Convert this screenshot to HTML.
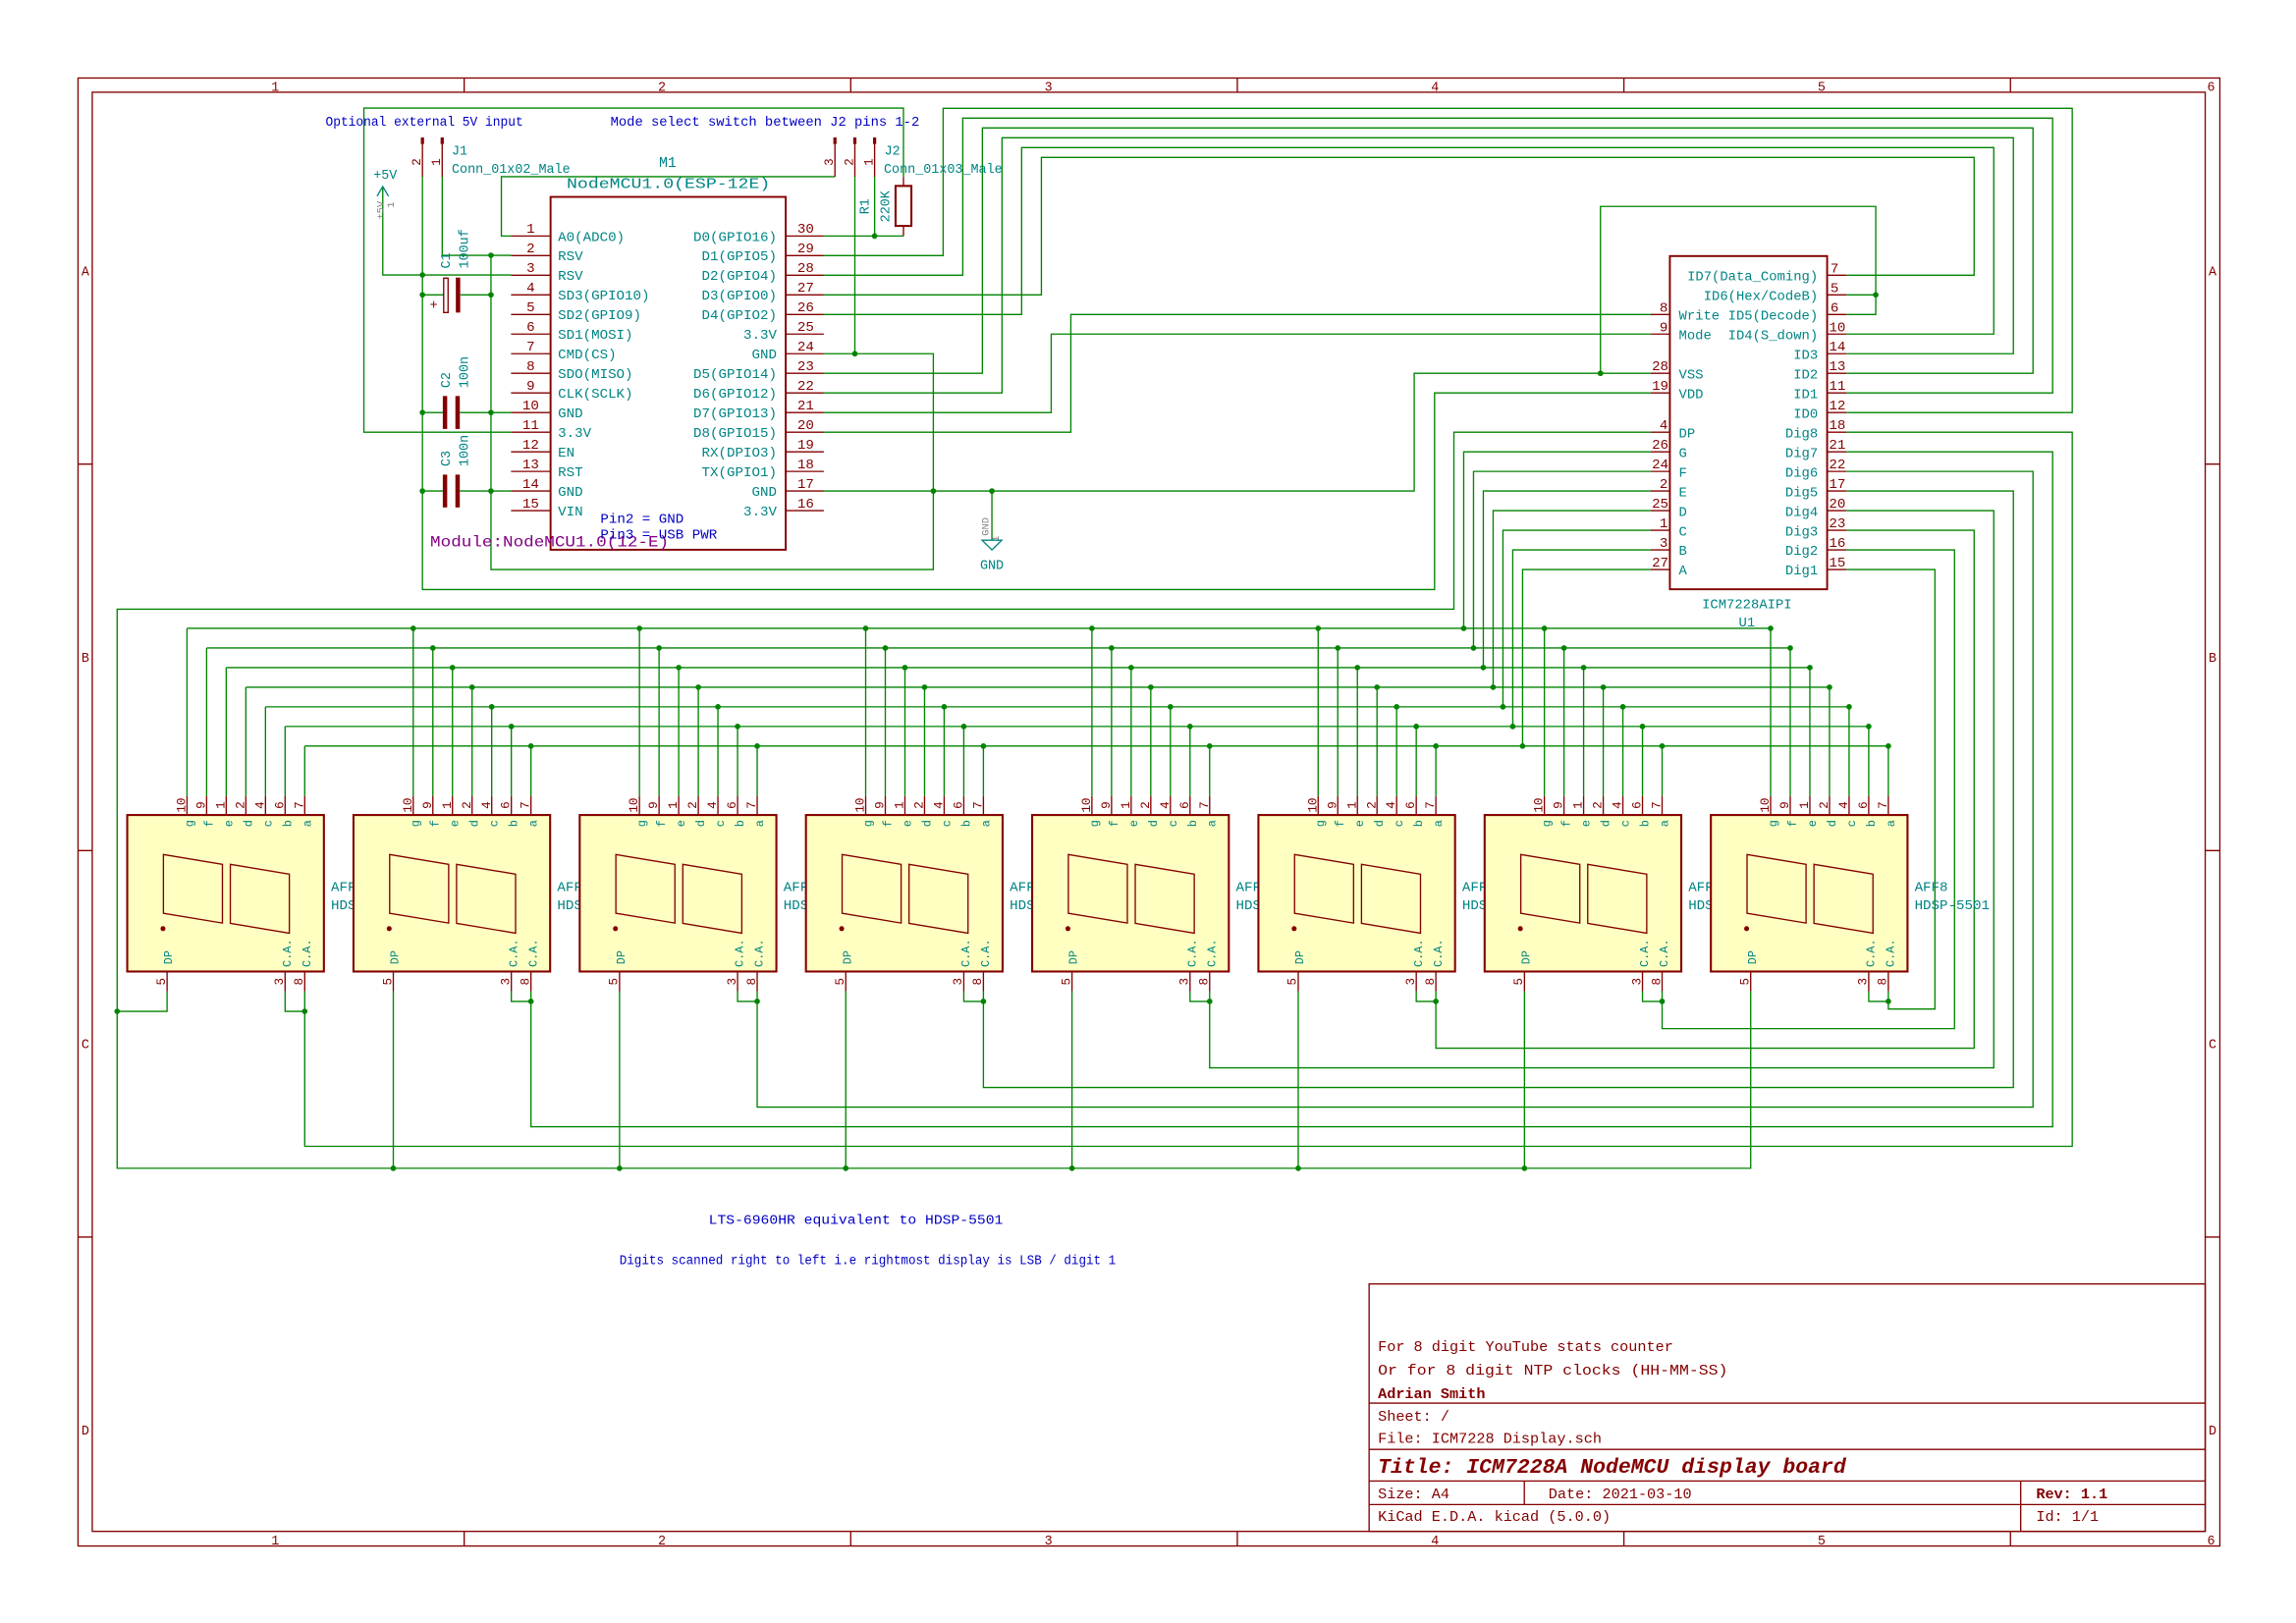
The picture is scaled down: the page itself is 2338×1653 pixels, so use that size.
<!DOCTYPE html>
<html><head><meta charset="utf-8"><style>
html,body{margin:0;padding:0;background:#fff;}
svg{display:block;}
text{font-family:"Liberation Mono",monospace;}
</style></head><body>
<svg width="2338" height="1653" viewBox="0 0 1568 1108.6" preserveAspectRatio="none" xmlns="http://www.w3.org/2000/svg">
<rect x="0" y="0" width="1568" height="1109" fill="#fff"/>
<!-- border -->
<g fill="none" stroke="#840000" stroke-width="0.9">
<rect x="53.3" y="53.3" width="1462.7" height="1002.7"/>
<rect x="63" y="63" width="1443" height="983"/>
<path d="M317 53.3V63M581 53.3V63M845 53.3V63M1109 53.3V63M1373 53.3V63M317 1046V1056M581 1046V1056M845 1046V1056M1109 1046V1056M1373 1046V1056M53.3 317H63M53.3 581H63M53.3 845H63M1506 317H1516M1506 581H1516M1506 845H1516"/>
</g>
<g fill="#840000" font-size="9" text-anchor="middle">
<text x="188" y="62">1</text><text x="452" y="62">2</text><text x="716" y="62">3</text><text x="980" y="62">4</text><text x="1244" y="62">5</text><text x="1510" y="62">6</text>
<text x="188" y="1055">1</text><text x="452" y="1055">2</text><text x="716" y="1055">3</text><text x="980" y="1055">4</text><text x="1244" y="1055">5</text><text x="1510" y="1055">6</text>
<text x="58.3" y="188">A</text><text x="58.3" y="452">B</text><text x="58.3" y="716">C</text><text x="58.3" y="980">D</text>
<text x="1511" y="188">A</text><text x="1511" y="452">B</text><text x="1511" y="716">C</text><text x="1511" y="980">D</text>
</g>
<!-- title block -->
<g fill="none" stroke="#840000" stroke-width="0.9">
<rect x="935" y="877" width="571" height="169"/>
<path d="M935 958.4H1506M935 990H1506M935 1011.6H1506M935 1027.7H1506M1041 1011.6V1027.7M1380 1011.6V1046"/>
</g>
<g fill="#840000" font-size="10.2">
<text x="941" y="923">For 8 digit YouTube stats counter</text>
<text x="941" y="939" textLength="239" lengthAdjust="spacingAndGlyphs">Or for 8 digit NTP clocks (HH-MM-SS)</text>
<text x="941" y="955" font-weight="bold">Adrian Smith</text>
<text x="941" y="970.5">Sheet: /</text>
<text x="941" y="985.5">File: ICM7228 Display.sch</text>
<text x="941" y="1006" font-size="14.4" font-weight="bold" font-style="italic">Title: ICM7228A NodeMCU display board</text>
<text x="941" y="1023.5">Size: A4</text>
<text x="1057.5" y="1023.5">Date: 2021-03-10</text>
<text x="1390.5" y="1023.5" font-weight="bold">Rev: 1.1</text>
<text x="941" y="1039">KiCad E.D.A.  kicad (5.0.0)</text>
<text x="1390.5" y="1039">Id: 1/1</text>
</g>

<!-- WIRES -->
<g fill="none" stroke="#008400" stroke-width="0.9">
<path d="M349 295.2H248.5V73.8H617V120.9"/>
<path d="M562.6 161.2H617"/>
<path d="M597.3 120.7V161.2"/>
<path d="M583.8 120.7V241.6"/>
<path d="M570.2 120.7H342.4V161.2H349"/>
<path d="M562.6 241.6H637.4V389H335.3V174.4"/>
<path d="M562.6 335.4H965.8V255H1127.2"/>
<path d="M677.4 335.4V369"/>
<path d="M302 120.7V174.4H349"/>
<path d="M288.5 120.7V402.7H979.7V268.4H1127.2"/>
<path d="M261.4 127.4V187.8H349"/>
<path d="M288.5 201.4H303M314.5 201.4H335.3"/>
<path d="M288.5 281.8H302.5M314 281.8H349"/>
<path d="M288.5 335.4H302.5M314 335.4H349"/>
<path d="M1261 188H1348.2V107.5H711.2V201.4H562.6"/>
<path d="M1261 228.2H1361.6V100.8H697.7V214.8H562.6"/>
<path d="M1261 241.6H1375V94.1H684.3V268.4H562.6"/>
<path d="M1261 255H1388.4V87.4H670.9V255H562.6"/>
<path d="M1261 268.4H1401.8V80.7H657.5V188H562.6"/>
<path d="M1261 281.8H1415.2V74H644.1V174.6H562.6"/>
<path d="M1261 201.4H1281M1261 214.8H1281V141H1093V255"/>
<path d="M562.6 295.2H731.3V214.8H1127.2"/>
<path d="M562.6 281.8H717.9V228.2H1127.2"/>
<path d="M1127.2 308.6H999.6V429.2M1127.2 322H1006.3V442.6M1127.2 335.4H1013V456M1127.2 348.8H1019.7V469.4M1127.2 362.2H1026.4V482.8M1127.2 375.6H1033.1V496.2M1127.2 389H1039.8V509.6"/>
<path d="M1127.2 295.2H992.9V416.1H80V798H1195.6V677"/>
<path d="M127.7 429.2H1209.2M141.1 442.6H1222.6M154.5 456H1236M167.9 469.4H1249.4M181.3 482.8H1262.8M194.7 496.2H1276.2M208.1 509.6H1289.6"/>
<path d="M114.1 677V690.8H80M194.7 677V690.8H208.1M1261 295.2H1415.2V783H208.1V677"/>
<path d="M268.6 677V798M349.2 677V684H362.6M1261 308.6H1401.8V769.6H362.6V677"/>
<path d="M423.1 677V798M503.7 677V684H517.1M1261 322H1388.4V756.2H517.1V677"/>
<path d="M577.6 677V798M658.2 677V684H671.6M1261 335.4H1375V742.8H671.6V677"/>
<path d="M732.1 677V798M812.7 677V684H826.1M1261 348.8H1361.6V729.4H826.1V677"/>
<path d="M886.6 677V798M967.2 677V684H980.6M1261 362.2H1348.2V716H980.6V677"/>
<path d="M1041.1 677V798M1121.7 677V684H1135.1M1261 375.6H1334.8V702.6H1135.1V677"/>
<path d="M1276.2 677V684H1289.6M1261 389H1321.4V689.2H1289.6V677"/>
</g>
<g fill="#008400">
<circle cx="597.3" cy="161.2" r="1.9"/><circle cx="583.8" cy="241.6" r="1.9"/><circle cx="637.4" cy="335.4" r="1.9"/><circle cx="677.4" cy="335.4" r="1.9"/>
<circle cx="335.3" cy="174.4" r="1.9"/><circle cx="335.3" cy="201.4" r="1.9"/><circle cx="335.3" cy="281.8" r="1.9"/><circle cx="335.3" cy="335.4" r="1.9"/>
<circle cx="288.5" cy="187.8" r="1.9"/><circle cx="288.5" cy="201.4" r="1.9"/><circle cx="288.5" cy="281.8" r="1.9"/><circle cx="288.5" cy="335.4" r="1.9"/>
<circle cx="1281" cy="201.4" r="1.9"/><circle cx="1093" cy="255" r="1.9"/>
<circle cx="999.6" cy="429.2" r="1.9"/><circle cx="1006.3" cy="442.6" r="1.9"/><circle cx="1013" cy="456" r="1.9"/><circle cx="1019.7" cy="469.4" r="1.9"/><circle cx="1026.4" cy="482.8" r="1.9"/><circle cx="1033.1" cy="496.2" r="1.9"/><circle cx="1039.8" cy="509.6" r="1.9"/>
<circle cx="80" cy="690.8" r="1.9"/><circle cx="208.1" cy="690.8" r="1.9"/>
<circle cx="362.6" cy="684" r="1.9"/><circle cx="517.1" cy="684" r="1.9"/><circle cx="671.6" cy="684" r="1.9"/><circle cx="826.1" cy="684" r="1.9"/><circle cx="980.6" cy="684" r="1.9"/><circle cx="1135.1" cy="684" r="1.9"/><circle cx="1289.6" cy="684" r="1.9"/>
<circle cx="268.6" cy="798" r="1.9"/><circle cx="423.1" cy="798" r="1.9"/><circle cx="577.6" cy="798" r="1.9"/><circle cx="732.1" cy="798" r="1.9"/><circle cx="886.6" cy="798" r="1.9"/><circle cx="1041.1" cy="798" r="1.9"/>
</g>
<defs>
<g id="busj" fill="#008400">
<circle cx="127.7" cy="429.2" r="1.9"/><circle cx="141.1" cy="442.6" r="1.9"/><circle cx="154.5" cy="456" r="1.9"/><circle cx="167.9" cy="469.4" r="1.9"/><circle cx="181.3" cy="482.8" r="1.9"/><circle cx="194.7" cy="496.2" r="1.9"/><circle cx="208.1" cy="509.6" r="1.9"/>
</g>
<g id="dshape">
<path d="M127.7 429.2V543.7M141.1 442.6V543.7M154.5 456V543.7M167.9 469.4V543.7M181.3 482.8V543.7M194.7 496.2V543.7M208.1 509.6V543.7" stroke="#008400" stroke-width="0.9" fill="none"/>
<path d="M127.7 543.7V556.7M141.1 543.7V556.7M154.5 543.7V556.7M167.9 543.7V556.7M181.3 543.7V556.7M194.7 543.7V556.7M208.1 543.7V556.7M114.1 663.6V677M194.7 663.6V677M208.1 663.6V677" stroke="#840000" stroke-width="0.9" fill="none"/>
<rect x="86.9" y="556.7" width="134.3" height="106.9" fill="#ffffc2" stroke="#840000" stroke-width="1.4"/>
<polygon points="111.6,583.7 151.9,590.4 151.9,630.5 111.6,623.8" fill="none" stroke="#840000" stroke-width="0.9"/>
<polygon points="157.3,590.4 197.6,597.1 197.6,637.4 157.3,630.7" fill="none" stroke="#840000" stroke-width="0.9"/>
<circle cx="111.3" cy="634.3" r="1.7" fill="#840000"/>
</g>
</defs>

<g>
<text x="226" y="608.5" fill="#008484" font-size="9.5">AFF1</text><text x="226" y="621" fill="#008484" font-size="9.5">HDSP-5501</text>
<use href="#dshape"/>
<g fill="#840000" font-size="8.5" text-anchor="middle"><text transform="translate(126.4,550) rotate(-90)">10</text><text transform="translate(139.8,550) rotate(-90)">9</text><text transform="translate(153.2,550) rotate(-90)">1</text><text transform="translate(166.6,550) rotate(-90)">2</text><text transform="translate(180,550) rotate(-90)">4</text><text transform="translate(193.4,550) rotate(-90)">6</text><text transform="translate(206.8,550) rotate(-90)">7</text><text transform="translate(112.6,670.5) rotate(-90)">5</text><text transform="translate(193.2,670.5) rotate(-90)">3</text><text transform="translate(206.6,670.5) rotate(-90)">8</text></g>
<g fill="#008484" font-size="8" text-anchor="middle"><text transform="translate(131.7,562.5) rotate(-90)">g</text><text transform="translate(145.1,562.5) rotate(-90)">f</text><text transform="translate(158.5,562.5) rotate(-90)">e</text><text transform="translate(171.9,562.5) rotate(-90)">d</text><text transform="translate(185.3,562.5) rotate(-90)">c</text><text transform="translate(198.7,562.5) rotate(-90)">b</text><text transform="translate(212.1,562.5) rotate(-90)">a</text><text transform="translate(117.5,654) rotate(-90)">DP</text><text transform="translate(198.5,651) rotate(-90)">C.A.</text><text transform="translate(211.9,651) rotate(-90)">C.A.</text></g>
</g>
<g transform="translate(154.5,0)"><use href="#busj"/>
<text x="226" y="608.5" fill="#008484" font-size="9.5">AFF2</text><text x="226" y="621" fill="#008484" font-size="9.5">HDSP-5501</text>
<use href="#dshape"/>
<g fill="#840000" font-size="8.5" text-anchor="middle"><text transform="translate(126.4,550) rotate(-90)">10</text><text transform="translate(139.8,550) rotate(-90)">9</text><text transform="translate(153.2,550) rotate(-90)">1</text><text transform="translate(166.6,550) rotate(-90)">2</text><text transform="translate(180,550) rotate(-90)">4</text><text transform="translate(193.4,550) rotate(-90)">6</text><text transform="translate(206.8,550) rotate(-90)">7</text><text transform="translate(112.6,670.5) rotate(-90)">5</text><text transform="translate(193.2,670.5) rotate(-90)">3</text><text transform="translate(206.6,670.5) rotate(-90)">8</text></g>
<g fill="#008484" font-size="8" text-anchor="middle"><text transform="translate(131.7,562.5) rotate(-90)">g</text><text transform="translate(145.1,562.5) rotate(-90)">f</text><text transform="translate(158.5,562.5) rotate(-90)">e</text><text transform="translate(171.9,562.5) rotate(-90)">d</text><text transform="translate(185.3,562.5) rotate(-90)">c</text><text transform="translate(198.7,562.5) rotate(-90)">b</text><text transform="translate(212.1,562.5) rotate(-90)">a</text><text transform="translate(117.5,654) rotate(-90)">DP</text><text transform="translate(198.5,651) rotate(-90)">C.A.</text><text transform="translate(211.9,651) rotate(-90)">C.A.</text></g>
</g>
<g transform="translate(309,0)"><use href="#busj"/>
<text x="226" y="608.5" fill="#008484" font-size="9.5">AFF3</text><text x="226" y="621" fill="#008484" font-size="9.5">HDSP-5501</text>
<use href="#dshape"/>
<g fill="#840000" font-size="8.5" text-anchor="middle"><text transform="translate(126.4,550) rotate(-90)">10</text><text transform="translate(139.8,550) rotate(-90)">9</text><text transform="translate(153.2,550) rotate(-90)">1</text><text transform="translate(166.6,550) rotate(-90)">2</text><text transform="translate(180,550) rotate(-90)">4</text><text transform="translate(193.4,550) rotate(-90)">6</text><text transform="translate(206.8,550) rotate(-90)">7</text><text transform="translate(112.6,670.5) rotate(-90)">5</text><text transform="translate(193.2,670.5) rotate(-90)">3</text><text transform="translate(206.6,670.5) rotate(-90)">8</text></g>
<g fill="#008484" font-size="8" text-anchor="middle"><text transform="translate(131.7,562.5) rotate(-90)">g</text><text transform="translate(145.1,562.5) rotate(-90)">f</text><text transform="translate(158.5,562.5) rotate(-90)">e</text><text transform="translate(171.9,562.5) rotate(-90)">d</text><text transform="translate(185.3,562.5) rotate(-90)">c</text><text transform="translate(198.7,562.5) rotate(-90)">b</text><text transform="translate(212.1,562.5) rotate(-90)">a</text><text transform="translate(117.5,654) rotate(-90)">DP</text><text transform="translate(198.5,651) rotate(-90)">C.A.</text><text transform="translate(211.9,651) rotate(-90)">C.A.</text></g>
</g>
<g transform="translate(463.5,0)"><use href="#busj"/>
<text x="226" y="608.5" fill="#008484" font-size="9.5">AFF4</text><text x="226" y="621" fill="#008484" font-size="9.5">HDSP-5501</text>
<use href="#dshape"/>
<g fill="#840000" font-size="8.5" text-anchor="middle"><text transform="translate(126.4,550) rotate(-90)">10</text><text transform="translate(139.8,550) rotate(-90)">9</text><text transform="translate(153.2,550) rotate(-90)">1</text><text transform="translate(166.6,550) rotate(-90)">2</text><text transform="translate(180,550) rotate(-90)">4</text><text transform="translate(193.4,550) rotate(-90)">6</text><text transform="translate(206.8,550) rotate(-90)">7</text><text transform="translate(112.6,670.5) rotate(-90)">5</text><text transform="translate(193.2,670.5) rotate(-90)">3</text><text transform="translate(206.6,670.5) rotate(-90)">8</text></g>
<g fill="#008484" font-size="8" text-anchor="middle"><text transform="translate(131.7,562.5) rotate(-90)">g</text><text transform="translate(145.1,562.5) rotate(-90)">f</text><text transform="translate(158.5,562.5) rotate(-90)">e</text><text transform="translate(171.9,562.5) rotate(-90)">d</text><text transform="translate(185.3,562.5) rotate(-90)">c</text><text transform="translate(198.7,562.5) rotate(-90)">b</text><text transform="translate(212.1,562.5) rotate(-90)">a</text><text transform="translate(117.5,654) rotate(-90)">DP</text><text transform="translate(198.5,651) rotate(-90)">C.A.</text><text transform="translate(211.9,651) rotate(-90)">C.A.</text></g>
</g>
<g transform="translate(618,0)"><use href="#busj"/>
<text x="226" y="608.5" fill="#008484" font-size="9.5">AFF5</text><text x="226" y="621" fill="#008484" font-size="9.5">HDSP-5501</text>
<use href="#dshape"/>
<g fill="#840000" font-size="8.5" text-anchor="middle"><text transform="translate(126.4,550) rotate(-90)">10</text><text transform="translate(139.8,550) rotate(-90)">9</text><text transform="translate(153.2,550) rotate(-90)">1</text><text transform="translate(166.6,550) rotate(-90)">2</text><text transform="translate(180,550) rotate(-90)">4</text><text transform="translate(193.4,550) rotate(-90)">6</text><text transform="translate(206.8,550) rotate(-90)">7</text><text transform="translate(112.6,670.5) rotate(-90)">5</text><text transform="translate(193.2,670.5) rotate(-90)">3</text><text transform="translate(206.6,670.5) rotate(-90)">8</text></g>
<g fill="#008484" font-size="8" text-anchor="middle"><text transform="translate(131.7,562.5) rotate(-90)">g</text><text transform="translate(145.1,562.5) rotate(-90)">f</text><text transform="translate(158.5,562.5) rotate(-90)">e</text><text transform="translate(171.9,562.5) rotate(-90)">d</text><text transform="translate(185.3,562.5) rotate(-90)">c</text><text transform="translate(198.7,562.5) rotate(-90)">b</text><text transform="translate(212.1,562.5) rotate(-90)">a</text><text transform="translate(117.5,654) rotate(-90)">DP</text><text transform="translate(198.5,651) rotate(-90)">C.A.</text><text transform="translate(211.9,651) rotate(-90)">C.A.</text></g>
</g>
<g transform="translate(772.5,0)"><use href="#busj"/>
<text x="226" y="608.5" fill="#008484" font-size="9.5">AFF6</text><text x="226" y="621" fill="#008484" font-size="9.5">HDSP-5501</text>
<use href="#dshape"/>
<g fill="#840000" font-size="8.5" text-anchor="middle"><text transform="translate(126.4,550) rotate(-90)">10</text><text transform="translate(139.8,550) rotate(-90)">9</text><text transform="translate(153.2,550) rotate(-90)">1</text><text transform="translate(166.6,550) rotate(-90)">2</text><text transform="translate(180,550) rotate(-90)">4</text><text transform="translate(193.4,550) rotate(-90)">6</text><text transform="translate(206.8,550) rotate(-90)">7</text><text transform="translate(112.6,670.5) rotate(-90)">5</text><text transform="translate(193.2,670.5) rotate(-90)">3</text><text transform="translate(206.6,670.5) rotate(-90)">8</text></g>
<g fill="#008484" font-size="8" text-anchor="middle"><text transform="translate(131.7,562.5) rotate(-90)">g</text><text transform="translate(145.1,562.5) rotate(-90)">f</text><text transform="translate(158.5,562.5) rotate(-90)">e</text><text transform="translate(171.9,562.5) rotate(-90)">d</text><text transform="translate(185.3,562.5) rotate(-90)">c</text><text transform="translate(198.7,562.5) rotate(-90)">b</text><text transform="translate(212.1,562.5) rotate(-90)">a</text><text transform="translate(117.5,654) rotate(-90)">DP</text><text transform="translate(198.5,651) rotate(-90)">C.A.</text><text transform="translate(211.9,651) rotate(-90)">C.A.</text></g>
</g>
<g transform="translate(927,0)"><use href="#busj"/>
<text x="226" y="608.5" fill="#008484" font-size="9.5">AFF7</text><text x="226" y="621" fill="#008484" font-size="9.5">HDSP-5501</text>
<use href="#dshape"/>
<g fill="#840000" font-size="8.5" text-anchor="middle"><text transform="translate(126.4,550) rotate(-90)">10</text><text transform="translate(139.8,550) rotate(-90)">9</text><text transform="translate(153.2,550) rotate(-90)">1</text><text transform="translate(166.6,550) rotate(-90)">2</text><text transform="translate(180,550) rotate(-90)">4</text><text transform="translate(193.4,550) rotate(-90)">6</text><text transform="translate(206.8,550) rotate(-90)">7</text><text transform="translate(112.6,670.5) rotate(-90)">5</text><text transform="translate(193.2,670.5) rotate(-90)">3</text><text transform="translate(206.6,670.5) rotate(-90)">8</text></g>
<g fill="#008484" font-size="8" text-anchor="middle"><text transform="translate(131.7,562.5) rotate(-90)">g</text><text transform="translate(145.1,562.5) rotate(-90)">f</text><text transform="translate(158.5,562.5) rotate(-90)">e</text><text transform="translate(171.9,562.5) rotate(-90)">d</text><text transform="translate(185.3,562.5) rotate(-90)">c</text><text transform="translate(198.7,562.5) rotate(-90)">b</text><text transform="translate(212.1,562.5) rotate(-90)">a</text><text transform="translate(117.5,654) rotate(-90)">DP</text><text transform="translate(198.5,651) rotate(-90)">C.A.</text><text transform="translate(211.9,651) rotate(-90)">C.A.</text></g>
</g>
<g transform="translate(1081.5,0)"><use href="#busj"/>
<text x="226" y="608.5" fill="#008484" font-size="9.5">AFF8</text><text x="226" y="621" fill="#008484" font-size="9.5">HDSP-5501</text>
<use href="#dshape"/>
<g fill="#840000" font-size="8.5" text-anchor="middle"><text transform="translate(126.4,550) rotate(-90)">10</text><text transform="translate(139.8,550) rotate(-90)">9</text><text transform="translate(153.2,550) rotate(-90)">1</text><text transform="translate(166.6,550) rotate(-90)">2</text><text transform="translate(180,550) rotate(-90)">4</text><text transform="translate(193.4,550) rotate(-90)">6</text><text transform="translate(206.8,550) rotate(-90)">7</text><text transform="translate(112.6,670.5) rotate(-90)">5</text><text transform="translate(193.2,670.5) rotate(-90)">3</text><text transform="translate(206.6,670.5) rotate(-90)">8</text></g>
<g fill="#008484" font-size="8" text-anchor="middle"><text transform="translate(131.7,562.5) rotate(-90)">g</text><text transform="translate(145.1,562.5) rotate(-90)">f</text><text transform="translate(158.5,562.5) rotate(-90)">e</text><text transform="translate(171.9,562.5) rotate(-90)">d</text><text transform="translate(185.3,562.5) rotate(-90)">c</text><text transform="translate(198.7,562.5) rotate(-90)">b</text><text transform="translate(212.1,562.5) rotate(-90)">a</text><text transform="translate(117.5,654) rotate(-90)">DP</text><text transform="translate(198.5,651) rotate(-90)">C.A.</text><text transform="translate(211.9,651) rotate(-90)">C.A.</text></g>
</g>

<!-- NodeMCU M1 -->
<g stroke="#840000" stroke-width="0.9" fill="none">
<rect x="376" y="134.5" width="160.6" height="241" stroke-width="1.3"/>
<path d="M349 161.2H376M349 174.6H376M349 188H376M349 201.4H376M349 214.8H376M349 228.2H376M349 241.6H376M349 255H376M349 268.4H376M349 281.8H376M349 295.2H376M349 308.6H376M349 322H376M349 335.4H376M349 348.8H376"/>
<path d="M536.6 161.2H562.6M536.6 174.6H562.6M536.6 188H562.6M536.6 201.4H562.6M536.6 214.8H562.6M536.6 228.2H562.6M536.6 241.6H562.6M536.6 255H562.6M536.6 268.4H562.6M536.6 281.8H562.6M536.6 295.2H562.6M536.6 308.6H562.6M536.6 322H562.6M536.6 335.4H562.6M536.6 348.8H562.6"/>
<path d="M288.5 98.4V120.7M302 98.4V120.7M570.2 98.4V120.7M583.8 98.4V120.7M597.3 98.4V120.7"/>
<path d="M288.5 93.9V98.4M302 93.9V98.4M570.2 93.9V98.4M583.8 93.9V98.4M597.3 93.9V98.4" stroke-width="2.2"/>
<rect x="611.6" y="127" width="10.8" height="27.3" stroke-width="1.4"/>
<path d="M617 120.9V127M617 154.3V161.2"/>
<path d="M303 190V213.5H306V190Z"/>
</g>
<g fill="#840000">
<rect x="311.3" y="189.6" width="3" height="23.9"/>
<rect x="302.4" y="270.5" width="3" height="22.5"/><rect x="311" y="270.5" width="3" height="22.5"/>
<rect x="302.4" y="324.2" width="3" height="22.4"/><rect x="311" y="324.2" width="3" height="22.4"/>
<text x="296.2" y="211" font-size="9" text-anchor="middle">+</text>
</g>
<g fill="#840000" font-size="9.5" text-anchor="middle">
<text x="362.4" y="159">1</text><text x="362.4" y="172.4">2</text><text x="362.4" y="185.8">3</text><text x="362.4" y="199.2">4</text><text x="362.4" y="212.6">5</text><text x="362.4" y="226">6</text><text x="362.4" y="239.4">7</text><text x="362.4" y="252.8">8</text><text x="362.4" y="266.2">9</text><text x="362.4" y="279.6">10</text><text x="362.4" y="293">11</text><text x="362.4" y="306.4">12</text><text x="362.4" y="319.8">13</text><text x="362.4" y="333.2">14</text><text x="362.4" y="346.6">15</text>
<text x="550.2" y="159">30</text><text x="550.2" y="172.4">29</text><text x="550.2" y="185.8">28</text><text x="550.2" y="199.2">27</text><text x="550.2" y="212.6">26</text><text x="550.2" y="226">25</text><text x="550.2" y="239.4">24</text><text x="550.2" y="252.8">23</text><text x="550.2" y="266.2">22</text><text x="550.2" y="279.6">21</text><text x="550.2" y="293">20</text><text x="550.2" y="306.4">19</text><text x="550.2" y="319.8">18</text><text x="550.2" y="333.2">17</text><text x="550.2" y="346.6">16</text>
</g>
<g fill="#840000" font-size="8.5" text-anchor="middle">
<text transform="translate(287,110.7) rotate(-90)">2</text><text transform="translate(300.5,110.7) rotate(-90)">1</text>
<text transform="translate(568.7,110.7) rotate(-90)">3</text><text transform="translate(582.3,110.7) rotate(-90)">2</text><text transform="translate(595.8,110.7) rotate(-90)">1</text>
</g>
<g fill="#008484" font-size="9.5">
<text x="381" y="164.5">A0(ADC0)</text><text x="381" y="177.9">RSV</text><text x="381" y="191.3">RSV</text><text x="381" y="204.7">SD3(GPIO10)</text><text x="381" y="218.1">SD2(GPIO9)</text><text x="381" y="231.5">SD1(MOSI)</text><text x="381" y="244.9">CMD(CS)</text><text x="381" y="258.3">SDO(MISO)</text><text x="381" y="271.7">CLK(SCLK)</text><text x="381" y="285.1">GND</text><text x="381" y="298.5">3.3V</text><text x="381" y="311.9">EN</text><text x="381" y="325.3">RST</text><text x="381" y="338.7">GND</text><text x="381" y="352.1">VIN</text>
</g>
<g fill="#008484" font-size="9.5" text-anchor="end">
<text x="530.5" y="164.5">D0(GPIO16)</text><text x="530.5" y="177.9">D1(GPIO5)</text><text x="530.5" y="191.3">D2(GPIO4)</text><text x="530.5" y="204.7">D3(GPIO0)</text><text x="530.5" y="218.1">D4(GPIO2)</text><text x="530.5" y="231.5">3.3V</text><text x="530.5" y="244.9">GND</text><text x="530.5" y="258.3">D5(GPIO14)</text><text x="530.5" y="271.7">D6(GPIO12)</text><text x="530.5" y="285.1">D7(GPIO13)</text><text x="530.5" y="298.5">D8(GPIO15)</text><text x="530.5" y="311.9">RX(DPIO3)</text><text x="530.5" y="325.3">TX(GPIO1)</text><text x="530.5" y="338.7">GND</text><text x="530.5" y="352.1">3.3V</text>
</g>
<g fill="#008484" font-size="10">
<text x="456" y="114" text-anchor="middle">M1</text>
<text x="387" y="128.5" textLength="139" lengthAdjust="spacingAndGlyphs">NodeMCU1.0(ESP-12E)</text>
<text x="308.5" y="105.5" font-size="9">J1</text>
<text x="308.5" y="118" font-size="9">Conn_01x02_Male</text>
<text x="604" y="105.5" font-size="9">J2</text>
<text x="603.6" y="118" font-size="9">Conn_01x03_Male</text>
<text x="255" y="122" font-size="9">+5V</text>
<text x="677.4" y="388.5" font-size="9" text-anchor="middle">GND</text>
<text transform="translate(593.3,141) rotate(-90)" font-size="9" text-anchor="middle">R1</text>
<text transform="translate(607.3,141) rotate(-90)" font-size="9" text-anchor="middle">220K</text>
<text transform="translate(307,183.4) rotate(-90)" font-size="9">C1</text>
<text transform="translate(319.5,183.4) rotate(-90)" font-size="9">100uf</text>
<text transform="translate(307,265) rotate(-90)" font-size="9">C2</text>
<text transform="translate(319.5,265) rotate(-90)" font-size="9">100n</text>
<text transform="translate(307,318.6) rotate(-90)" font-size="9">C3</text>
<text transform="translate(319.5,318.6) rotate(-90)" font-size="9">100n</text>
</g>
<g fill="#848484" font-size="7">
<text transform="translate(262,150) rotate(-90)">+5V</text>
<text transform="translate(269,142) rotate(-90)">1</text>
<text transform="translate(675,366) rotate(-90)">GND</text>
<text transform="translate(682,370) rotate(-90)">1</text>
</g>
<path d="M257.5 134L261.4 127.4L265.3 134" fill="none" stroke="#008484" stroke-width="0.9"/>
<path d="M670.7 369H684.1L677.4 375.6Z" fill="none" stroke="#008484" stroke-width="0.9"/>
<text x="293.8" y="373.3" fill="#840084" font-size="10.5" textLength="163" lengthAdjust="spacingAndGlyphs">Module:NodeMCU1.0(12-E)</text>
<text x="410" y="357" fill="#0000c4" font-size="9.5">Pin2 = GND</text>
<text x="410" y="368" fill="#0000c4" font-size="9.5">Pin3 = USB PWR</text>
<text x="222.3" y="86" fill="#0000c4" font-size="9.3" textLength="135" lengthAdjust="spacingAndGlyphs">Optional external 5V input</text>
<text x="416.9" y="86" fill="#0000c4" font-size="9.3" textLength="211" lengthAdjust="spacingAndGlyphs">Mode select switch between J2 pins 1-2</text>

<!-- ICM7228 -->
<g stroke="#840000" stroke-width="0.9" fill="none">
<rect x="1140.4" y="174.9" width="107.4" height="227.6" stroke-width="1.3"/>
<path d="M1247.8 188H1261M1247.8 201.4H1261M1247.8 214.8H1261M1247.8 228.2H1261M1247.8 241.6H1261M1247.8 255H1261M1247.8 268.4H1261M1247.8 281.8H1261M1247.8 295.2H1261M1247.8 308.6H1261M1247.8 322H1261M1247.8 335.4H1261M1247.8 348.8H1261M1247.8 362.2H1261M1247.8 375.6H1261M1247.8 389H1261"/>
<path d="M1127.2 214.8H1140.4M1127.2 228.2H1140.4M1127.2 255H1140.4M1127.2 268.4H1140.4M1127.2 295.2H1140.4M1127.2 308.6H1140.4M1127.2 322H1140.4M1127.2 335.4H1140.4M1127.2 348.8H1140.4M1127.2 362.2H1140.4M1127.2 375.6H1140.4M1127.2 389H1140.4"/>
</g>
<g fill="#840000" font-size="9.5">
<text x="1250" y="186">7</text><text x="1250" y="199.4">5</text><text x="1250" y="212.8">6</text><text x="1249" y="226.2">10</text><text x="1249" y="239.6">14</text><text x="1249" y="253">13</text><text x="1249" y="266.4">11</text><text x="1249" y="279.8">12</text><text x="1249" y="293.2">18</text><text x="1249" y="306.6">21</text><text x="1249" y="320">22</text><text x="1249" y="333.4">17</text><text x="1249" y="346.8">20</text><text x="1249" y="360.2">23</text><text x="1249" y="373.6">16</text><text x="1249" y="387">15</text>
</g>
<g fill="#840000" font-size="9.5" text-anchor="end">
<text x="1139" y="212.8">8</text><text x="1139" y="226.2">9</text><text x="1139.5" y="253">28</text><text x="1139.5" y="266.4">19</text><text x="1139" y="293.2">4</text><text x="1139.5" y="306.6">26</text><text x="1139.5" y="320">24</text><text x="1139" y="333.4">2</text><text x="1139.5" y="346.8">25</text><text x="1139" y="360.2">1</text><text x="1139" y="373.6">3</text><text x="1139.5" y="387">27</text>
</g>
<g fill="#008484" font-size="9.3" text-anchor="end">
<text x="1241.5" y="191.5">ID7(Data_Coming)</text><text x="1241.5" y="204.9">ID6(Hex/CodeB)</text><text x="1241.5" y="218.3">ID5(Decode)</text><text x="1241.5" y="231.7">ID4(S_down)</text><text x="1241.5" y="245.1">ID3</text><text x="1241.5" y="258.5">ID2</text><text x="1241.5" y="271.9">ID1</text><text x="1241.5" y="285.3">ID0</text><text x="1241.5" y="298.7">Dig8</text><text x="1241.5" y="312.1">Dig7</text><text x="1241.5" y="325.5">Dig6</text><text x="1241.5" y="338.9">Dig5</text><text x="1241.5" y="352.3">Dig4</text><text x="1241.5" y="365.7">Dig3</text><text x="1241.5" y="379.1">Dig2</text><text x="1241.5" y="392.5">Dig1</text>
</g>
<g fill="#008484" font-size="9.3">
<text x="1146.5" y="218.3">Write</text><text x="1146.5" y="231.7">Mode</text><text x="1146.5" y="258.5">VSS</text><text x="1146.5" y="271.9">VDD</text><text x="1146.5" y="298.7">DP</text><text x="1146.5" y="312.1">G</text><text x="1146.5" y="325.5">F</text><text x="1146.5" y="338.9">E</text><text x="1146.5" y="352.3">D</text><text x="1146.5" y="365.7">C</text><text x="1146.5" y="379.1">B</text><text x="1146.5" y="392.5">A</text>
<text x="1193" y="415.5" text-anchor="middle">ICM7228AIPI</text>
<text x="1193" y="428" text-anchor="middle">U1</text>
</g>

<text x="484" y="836" fill="#0000c4" font-size="9.3" textLength="201" lengthAdjust="spacingAndGlyphs">LTS-6960HR equivalent to HDSP-5501</text>
<text x="423" y="863.5" fill="#0000c4" font-size="9.3" textLength="339" lengthAdjust="spacingAndGlyphs">Digits scanned right to left i.e rightmost display is LSB / digit 1</text>
</svg>
</body></html>
